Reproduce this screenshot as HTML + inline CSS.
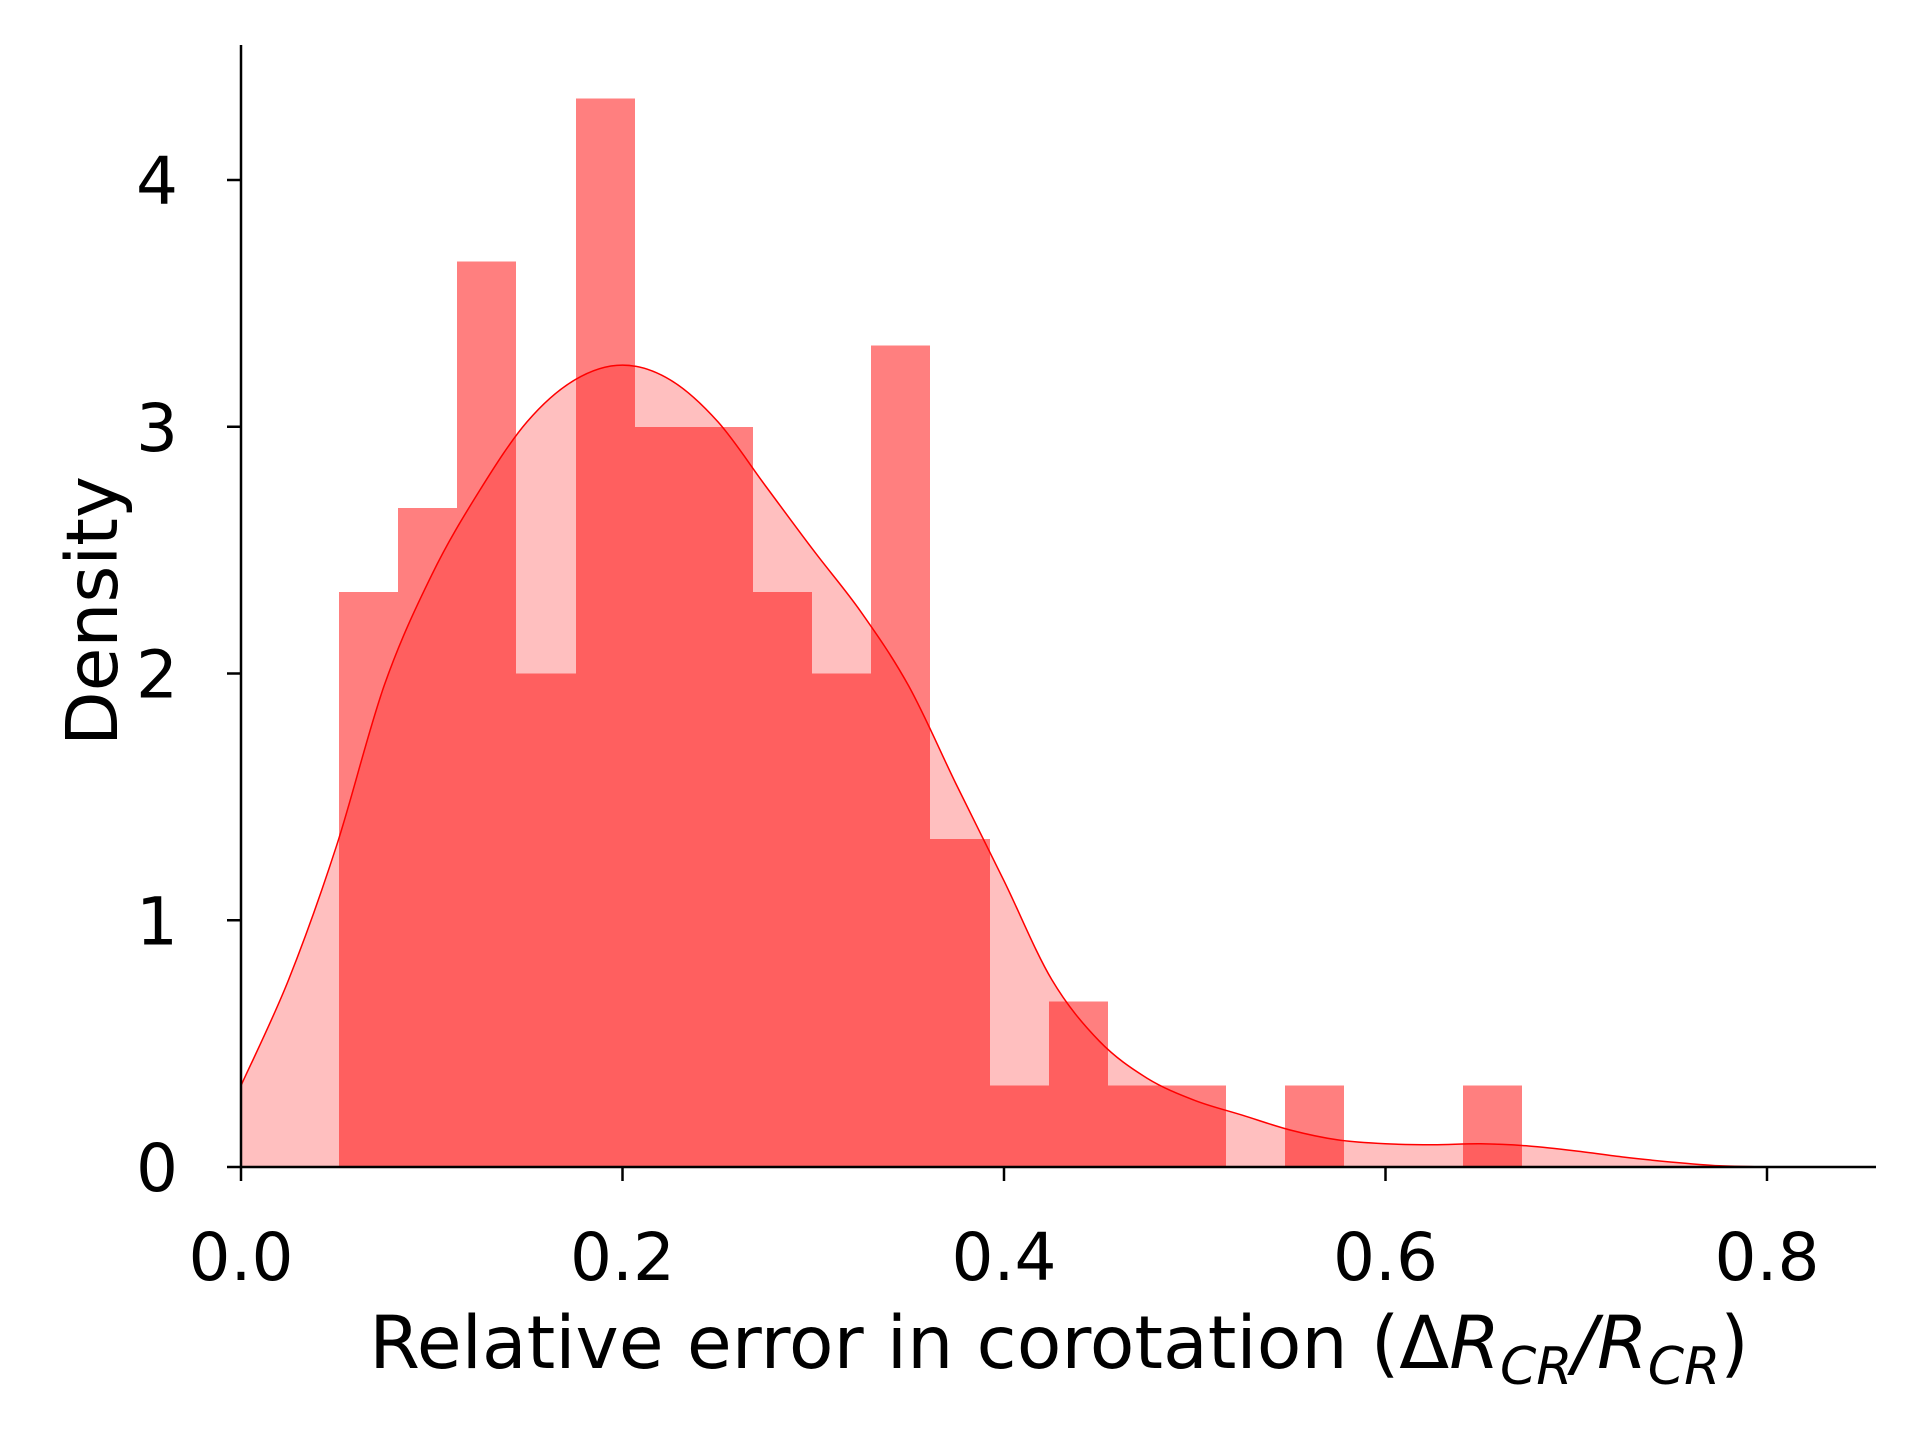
<!DOCTYPE html>
<html><head><meta charset="utf-8"><style>
html,body{margin:0;padding:0;background:#fff;}
svg{display:block;}
text{font-family:"DejaVu Sans","Liberation Sans",sans-serif;fill:#000;}
</style></head><body>
<svg id="chart" width="1920" height="1440" viewBox="0 0 1920 1440" xmlns="http://www.w3.org/2000/svg">
<g id="bars" shape-rendering="crispEdges"></g>
<g id="kde"></g>
<g id="axes"></g>
</svg>
<script>
const binStart = 0.0514;
const binWidth = 0.031;
const binHeights = [2.33,2.67,3.67,2.0,4.33,3.0,3.0,2.33,2.0,3.33,1.33,0.33,0.67,0.33,0.33,0,0.33,0,0,0.33];
const kdeX = [0,0.025,0.05,0.075,0.1,0.125,0.15,0.175,0.2,0.225,0.25,0.275,0.3,0.325,0.35,0.375,0.4,0.425,0.45,0.475,0.5,0.525,0.55,0.575,0.6,0.625,0.65,0.675,0.7,0.725,0.75,0.775,0.8];
const kdeY = [0.33,0.76,1.3,1.95,2.4,2.74,3.02,3.19,3.25,3.19,3.02,2.76,2.5,2.25,1.95,1.55,1.16,0.76,0.51,0.36,0.27,0.21,0.15,0.11,0.094,0.09,0.094,0.085,0.065,0.04,0.02,0.005,0];
const xTicks = [0.0,0.2,0.4,0.6,0.8];
const xTickLabels = ["0.0","0.2","0.4","0.6","0.8"];
const yTicks = [0,1,2,3,4];
const yTickLabels = ["0","1","2","3","4"];

const NS = "http://www.w3.org/2000/svg";
const X0 = 241, X1 = 1767, Y0 = 1167, Y4 = 180;
const sx = v => X0 + (X1 - X0) * v / 0.8;
const sy = v => Y0 - (Y0 - Y4) * v / 4;
function mk(tag, attrs, parent) {
  const e = document.createElementNS(NS, tag);
  for (const k in attrs) e.setAttribute(k, attrs[k]);
  parent.appendChild(e);
  return e;
}
const gb = document.getElementById('bars');
binHeights.forEach((h, i) => {
  if (h <= 0) return;
  const x = Math.round(sx(binStart + i * binWidth)), x2 = Math.round(sx(binStart + (i + 1) * binWidth));
  const r = mk('rect', {x: x, y: sy(h), width: x2 - x, height: Y0 - sy(h), fill: 'rgb(255,0,0)', 'fill-opacity': 0.5}, gb);
  
  
});
const gk = document.getElementById('kde');
const pts = kdeX.map((v, i) => [sx(v), sy(kdeY[i])]);
let d = 'M' + pts[0][0].toFixed(1) + ' ' + pts[0][1].toFixed(1);
for (let i = 0; i < pts.length - 1; i++) {
  const p0 = pts[Math.max(0, i - 1)], p1 = pts[i], p2 = pts[i + 1], p3 = pts[Math.min(pts.length - 1, i + 2)];
  const c1 = [p1[0] + (p2[0] - p0[0]) / 6, p1[1] + (p2[1] - p0[1]) / 6];
  const c2 = [p2[0] - (p3[0] - p1[0]) / 6, p2[1] - (p3[1] - p1[1]) / 6];
  d += ' C' + c1[0].toFixed(1) + ' ' + c1[1].toFixed(1) + ' ' + c2[0].toFixed(1) + ' ' + c2[1].toFixed(1) + ' ' + p2[0].toFixed(1) + ' ' + p2[1].toFixed(1);
}
const fillPath = mk('path', {d: d + ' L' + sx(kdeX[kdeX.length-1]) + ' ' + Y0 + ' L' + sx(kdeX[0]) + ' ' + Y0 + ' Z', fill: 'rgb(255,0,0)', 'fill-opacity': 0.25, stroke: 'none'}, gk);


const line = mk('path', {d: d, fill: 'none', stroke: '#ff0000', 'stroke-width': 1.5, 'stroke-linejoin': 'round'}, gk);



const ga = document.getElementById('axes');
const yAxis = mk('line', {x1: X0, y1: 45, x2: X0, y2: Y0, stroke: '#000', 'stroke-width': 2.5}, ga);


const xAxis = mk('line', {x1: X0, y1: Y0, x2: 1876, y2: Y0, stroke: '#000', 'stroke-width': 2.5}, ga);


xTicks.forEach((v, i) => {
  const t = mk('line', {x1: sx(v), y1: Y0, x2: sx(v), y2: Y0 + 14, stroke: '#000', 'stroke-width': 2.5}, ga);
  
  
  const l = mk('text', {x: sx(v), y: 1280, 'text-anchor': 'middle', 'font-size': 66}, ga);
  l.textContent = xTickLabels[i];
  
  
});
yTicks.forEach((v, i) => {
  const t = mk('line', {x1: X0 - 14, y1: sy(v), x2: X0, y2: sy(v), stroke: '#000', 'stroke-width': 2.5}, ga);
  
  
  const l = mk('text', {x: 178, y: sy(v) + 24, 'text-anchor': 'end', 'font-size': 66}, ga);
  l.textContent = yTickLabels[i];
  
  
});
const yt = mk('text', {x: 0, y: 0, 'text-anchor': 'middle', 'font-size': 71, transform: 'translate(117,611) rotate(-90)'}, ga);
yt.textContent = 'Density';


const xt = mk('text', {x: 1059, y: 1368, 'text-anchor': 'middle', 'font-size': 73}, ga);


xt.innerHTML = 'Relative error in corotation (Δ<tspan font-style="italic">R</tspan><tspan font-style="italic" font-size="52" dy="16">CR</tspan><tspan dy="-16" font-style="italic">/R</tspan><tspan font-style="italic" font-size="52" dy="16">CR</tspan><tspan dy="-16">)</tspan>';
</script>
</body></html>
